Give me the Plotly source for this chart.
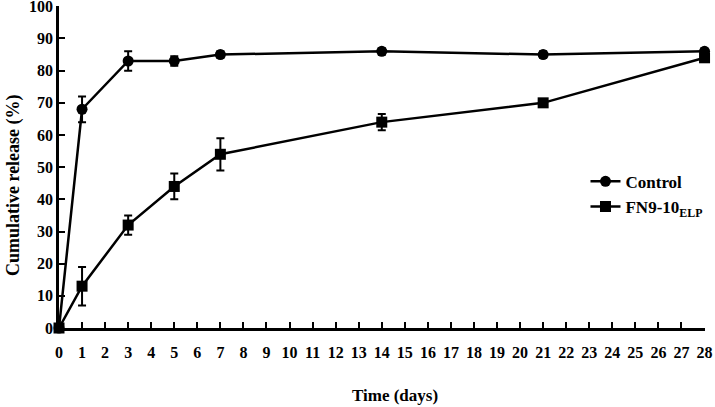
import plotly.graph_objects as go

days = [0, 1, 3, 5, 7, 14, 21, 28]
control = [0, 68, 83, 83, 85, 86, 85, 86]
control_err = [0, 4, 3, 1.5, 1, 1, 1, 1]
fn = [0, 13, 32, 44, 54, 64, 70, 84]
fn_err = [0, 6, 3, 4, 5, 2.5, 1, 1]
x_ticks = list(range(0, 29))
y_ticks = list(range(0, 101, 10))

font = dict(family="Liberation Serif", size=16, color="black")

fig = go.Figure()
fig.add_trace(go.Scatter(
    x=days, y=control, name="<b>Control</b>", mode="lines+markers",
    line=dict(color="black", width=2.5),
    marker=dict(symbol="circle", size=11, color="black"),
    error_y=dict(type="data", array=control_err, color="black", thickness=2, width=4),
    cliponaxis=False,
))
fig.add_trace(go.Scatter(
    x=days, y=fn, name="<b>FN9-10<sub>ELP</sub></b>", mode="lines+markers",
    line=dict(color="black", width=2.5),
    marker=dict(symbol="square", size=11, color="black"),
    error_y=dict(type="data", array=fn_err, color="black", thickness=2, width=4),
    cliponaxis=False,
))

fig.update_layout(
    width=715, height=407,
    margin=dict(l=59, r=10, t=6, b=79, autoexpand=False),
    plot_bgcolor="white", paper_bgcolor="white",
    font=font,
    showlegend=True,
    legend=dict(x=0.815, y=0.51, xanchor="left", yanchor="top",
                font=dict(family="Liberation Serif", size=17, color="black"),
                bgcolor="rgba(0,0,0,0)", tracegroupgap=2, itemwidth=30),
    xaxis=dict(range=[0, 28.02], tickvals=x_ticks, ticktext=[f"<b>{t}</b>" for t in x_ticks],
               automargin=False, ticklabeloverflow="allow", ticklabelstandoff=8,
               showgrid=False, zeroline=False, showline=True, linecolor="black", linewidth=2.5,
               ticks="inside", ticklen=6, tickwidth=2, tickcolor="black"),
    yaxis=dict(range=[0, 100.1], tickvals=y_ticks, ticktext=[f"<b>{t}</b>" for t in y_ticks],
               automargin=False, ticklabeloverflow="allow",
               showgrid=False, zeroline=False, showline=True, linecolor="black", linewidth=2.5,
               ticks="inside", ticklen=6, tickwidth=2, tickcolor="black"),
    annotations=[
        dict(text="<b>Time (days)</b>", xref="paper", yref="paper", x=0.52, y=0,
             yshift=-67, xanchor="center", yanchor="middle", showarrow=False,
             font=dict(family="Liberation Serif", size=17, color="black")),
        dict(text="<b>Cumulative release (%)</b>", xref="paper", yref="paper", x=0, y=0.444,
             xshift=-46, xanchor="center", yanchor="middle", textangle=-90, showarrow=False,
             font=dict(family="Liberation Serif", size=18, color="black")),
    ],
)

fig.write_html("out.html", config={"displayModeBar": False},
               post_script="document.body.style.margin='0';document.body.style.overflow='hidden';")
